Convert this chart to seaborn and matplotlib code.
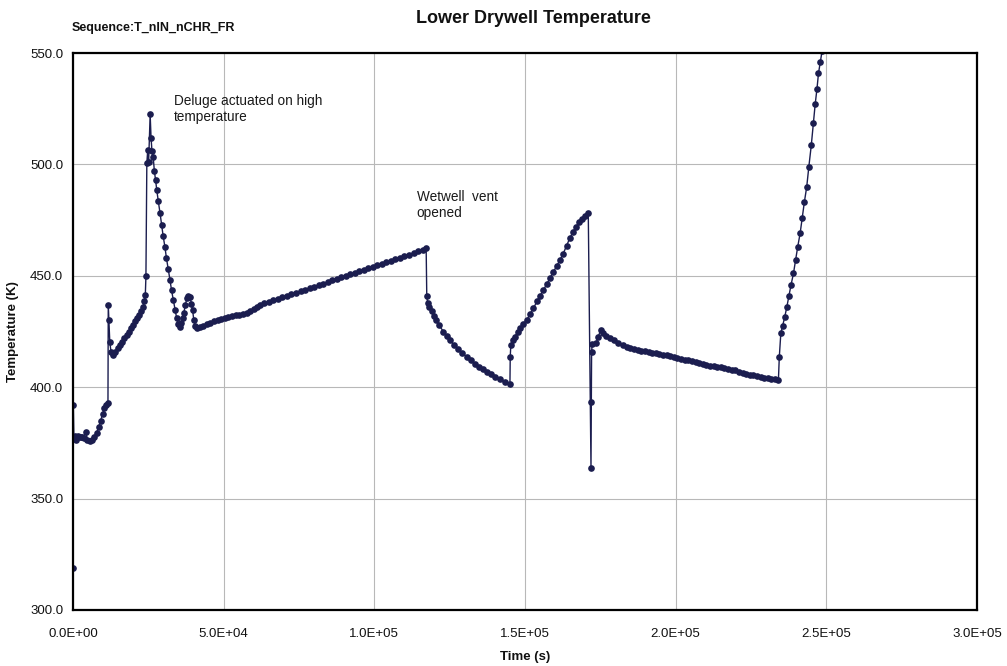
import numpy as np
import pandas as pd
import seaborn as sns
import matplotlib.pyplot as plt
from matplotlib.ticker import FuncFormatter, MultipleLocator

# ===============================
# Data: (time in kilo-seconds, temperature in K)
# ===============================
seg_start = [
    (0.0, 319.0), (0.1, 392.0), (0.3, 377.0), (0.6, 378.0), (1.0, 376.5), (1.5, 378.0),
    (2.0, 377.5), (2.5, 377.8), (3.0, 377.5), (3.5, 377.3), (4.2, 380.0), (4.8, 376.5),
    (5.5, 376.0), (6.2, 376.3), (7.0, 377.5), (7.8, 379.5), (8.5, 382.0), (9.2, 385.0),
    (9.8, 388.0), (10.4, 390.5), (11.0, 392.0), (11.6, 393.0),
]
seg_first_rise = [
    (11.7, 437.0), (11.9, 430.0), (12.2, 420.5), (12.6, 416.0), (13.2, 414.5), (14.0, 416.0),
    (14.8, 417.5), (15.5, 419.0), (16.2, 420.5), (17.0, 422.0), (17.8, 423.5), (18.5, 425.0),
    (19.2, 426.5), (20.0, 428.0), (20.7, 429.5), (21.4, 431.0), (22.0, 432.5), (22.6, 434.0),
    (23.2, 436.0), (23.7, 438.5), (24.0, 441.5), (24.2, 449.8),
]
seg_deluge_peak = [
    (24.5, 500.5), (24.8, 506.5), (25.1, 501.0), (25.6, 522.5), (25.9, 512.0), (26.2, 506.0),
    (26.6, 503.5), (27.0, 497.0), (27.4, 493.0), (27.8, 488.5), (28.3, 483.5), (28.9, 478.0),
    (29.4, 473.0), (29.9, 468.0), (30.5, 463.0), (31.0, 458.0), (31.6, 453.0), (32.2, 448.0),
    (32.7, 443.5), (33.3, 439.0), (33.9, 434.6), (34.4, 431.0), (34.9, 428.5), (35.5, 427.2),
    (36.0, 429.0), (36.4, 431.0), (36.8, 433.5), (37.3, 437.0), (37.8, 440.0), (38.3, 440.8),
    (38.8, 440.5), (39.3, 437.5), (39.7, 434.5), (40.1, 430.0), (40.6, 427.5), (41.1, 426.6),
]
seg_slow_heatup = [
    (42.0, 426.8), (43.2, 427.5), (44.4, 428.2), (45.6, 428.9), (46.8, 429.6), (48.0, 430.2),
    (49.2, 430.7), (50.4, 431.2), (51.6, 431.6), (52.8, 432.0), (54.0, 432.3), (55.2, 432.6),
    (56.4, 433.0), (57.6, 433.5), (58.8, 434.3), (60.0, 435.3), (61.0, 436.2), (62.0, 437.0),
    (63.5, 437.6), (65.0, 438.3), (66.5, 439.0), (68.0, 439.7), (69.5, 440.4), (71.0, 441.0),
    (72.5, 441.7), (74.0, 442.4), (75.5, 443.1), (77.0, 443.8), (78.5, 444.5), (80.0, 445.1),
    (81.5, 445.8), (83.0, 446.5), (84.5, 447.2), (86.0, 447.9), (87.5, 448.6), (89.0, 449.3),
    (90.5, 449.9), (92.0, 450.6), (93.5, 451.3), (95.0, 452.0), (96.5, 452.7), (98.0, 453.3),
    (99.5, 454.0), (101.0, 454.7), (102.5, 455.3), (104.0, 456.1), (105.5, 456.8),
    (107.0, 457.5), (108.5, 458.1), (110.0, 458.8), (111.5, 459.5), (113.0, 460.3),
    (114.5, 461.0), (116.0, 461.8), (117.2, 462.4),
]
seg_vent_decay = [
    (117.4, 441.0), (117.7, 437.7), (118.3, 436.0), (119.0, 434.0), (119.8, 432.0),
    (120.6, 430.0), (121.5, 427.8), (122.9, 425.0), (124.0, 423.0), (125.2, 421.0),
    (126.4, 419.0), (127.7, 417.2), (129.0, 415.4), (130.7, 413.7), (132.0, 412.0),
    (133.4, 410.5), (134.8, 409.0), (136.0, 408.0), (137.3, 407.0), (138.7, 405.8),
    (140.2, 404.5), (141.7, 403.5), (143.2, 402.4), (145.0, 401.4),
]
seg_second_rise = [
    (145.1, 413.7), (145.3, 419.0), (146.0, 421.0), (146.7, 422.7), (147.6, 425.0),
    (148.5, 426.5), (149.5, 428.5), (150.6, 430.2), (151.7, 432.8), (152.8, 435.5),
    (154.0, 438.5), (155.0, 441.0), (156.1, 443.6), (157.2, 446.2), (158.3, 449.0),
    (159.4, 451.7), (160.5, 454.3), (161.6, 457.0), (162.7, 460.0), (163.8, 463.5),
    (164.9, 467.0), (166.0, 469.8), (167.0, 472.0), (168.0, 474.0), (169.0, 475.5),
    (170.0, 477.0), (171.0, 478.0),
]
seg_late_decay = [
    (171.9, 363.6), (172.0, 393.5), (172.1, 415.9), (172.3, 419.4), (173.6, 419.7),
    (174.3, 422.5), (175.1, 425.7), (176.0, 424.5), (177.0, 423.2), (178.2, 422.0),
    (179.5, 421.0), (181.0, 420.0), (182.4, 419.1), (183.8, 418.2), (185.0, 417.7),
    (186.2, 417.2), (187.4, 416.8), (188.6, 416.4), (189.8, 416.1), (191.0, 415.8),
    (192.2, 415.5), (193.4, 415.2), (194.6, 414.9), (195.8, 414.6), (197.0, 414.3),
    (198.2, 414.0), (199.4, 413.6), (200.6, 413.2), (201.8, 412.8), (203.0, 412.4),
    (204.2, 412.0), (205.4, 411.6), (206.6, 411.2), (207.8, 410.8), (209.0, 410.4),
    (210.2, 410.0), (211.4, 409.7), (212.6, 409.4), (213.8, 409.1), (215.0, 408.9),
    (216.2, 408.6), (217.4, 408.3), (218.6, 407.9), (219.8, 407.5), (221.0, 407.0),
    (222.2, 406.5), (223.4, 406.1), (224.6, 405.7), (225.8, 405.4), (227.0, 405.0),
    (228.2, 404.6), (229.4, 404.3), (230.6, 404.0), (231.8, 403.8), (233.0, 403.5),
    (234.1, 403.3),
]
seg_final_heatup = [
    (234.4, 413.7), (234.9, 424.2), (235.5, 427.5), (236.2, 431.5), (236.9, 436.1),
    (237.6, 441.0), (238.3, 446.0), (239.1, 451.1), (239.8, 457.0), (240.5, 463.0),
    (241.3, 469.0), (242.0, 476.0), (242.7, 483.0), (243.5, 490.0), (244.2, 499.0),
    (245.0, 508.5), (245.7, 518.4), (246.3, 527.0), (246.9, 534.0), (247.4, 540.9),
    (248.0, 546.0), (248.6, 551.0), (249.2, 556.0),
]

segments = [seg_start, seg_first_rise, seg_deluge_peak, seg_slow_heatup,
            seg_vent_decay, seg_second_rise, seg_late_decay, seg_final_heatup]
rows = [p for seg in segments for p in seg]
df = pd.DataFrame(rows, columns=["time_ks", "temp"])
df["time_s"] = df["time_ks"] * 1000.0

sns.set_style("white")
plt.rcParams["font.family"] = ["Liberation Sans", "DejaVu Sans"]

fig = plt.figure(figsize=(10.07, 6.66), dpi=100)
ax = fig.add_axes([0.0725, 0.0841, 0.8977, 0.8363])

line_color = "#1b1d4f"
sns.lineplot(
    data=df, x="time_s", y="temp", sort=False, ax=ax,
    color=line_color, linewidth=1.0, marker="o", markersize=4.8,
    markeredgewidth=0, estimator=None,
)

ax.set_xlim(0, 3.0e5)
ax.set_ylim(300, 550)
ax.xaxis.set_major_locator(MultipleLocator(5.0e4))
ax.yaxis.set_major_locator(MultipleLocator(50))
ax.xaxis.set_major_formatter(FuncFormatter(lambda v, p: f"{v:.1E}"))
ax.yaxis.set_major_formatter(FuncFormatter(lambda v, p: f"{v:.1f}"))
ax.grid(True, color="#b8b8b8", linewidth=0.8)
ax.tick_params(axis="x", labelsize=9.5, length=0, pad=13, labelcolor="#111111")
ax.tick_params(axis="y", labelsize=9.5, length=0, pad=7, labelcolor="#111111")
for s in ax.spines.values():
    s.set_color("black")
    s.set_linewidth(1.6)

ax.set_xlabel("Time (s)", fontsize=9.5, fontweight="bold", labelpad=8, color="#111111")
ax.set_ylabel("Temperature (K)", fontsize=9.5, fontweight="bold", labelpad=8, color="#111111")

fig.text(0.530, 0.972, "Lower Drywell Temperature", ha="center", va="center",
         fontsize=13, fontweight="bold", color="#111111")
fig.text(0.071, 0.958, "Sequence:T_nIN_nCHR_FR", ha="left", va="center",
         fontsize=9, fontweight="bold", color="#111111")

ax.text(3.35e4, 531.5, "Deluge actuated on high\ntemperature", fontsize=9.8,
        va="top", ha="left", color="#1a1a1a")
ax.text(1.14e5, 488.5, "Wetwell  vent\nopened", fontsize=9.8,
        va="top", ha="left", color="#1a1a1a")

plt.savefig("out.png", dpi=100)
plt.close()
